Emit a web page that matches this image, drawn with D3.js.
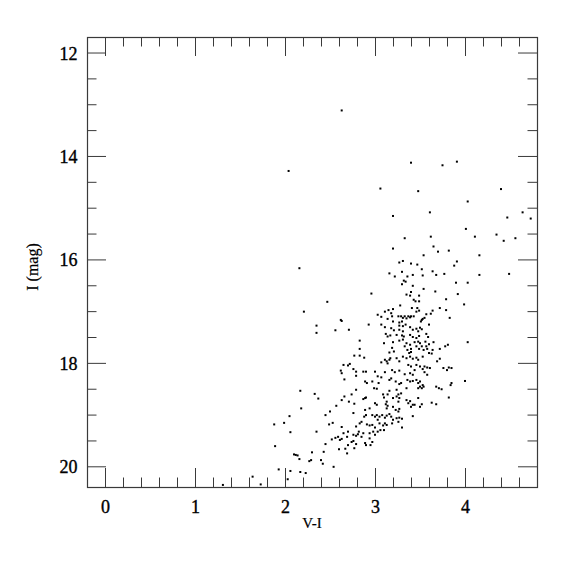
<!DOCTYPE html>
<html>
<head>
<meta charset="utf-8">
<script src="https://cdn.jsdelivr.net/npm/d3@7"></script>
<style>
  html, body { margin: 0; padding: 0; background: #fff; }
  svg { display: block; }
  .tick text { font-family: "Liberation Serif", "DejaVu Serif", serif; }
</style>
</head>
<body>
<div id="chart"></div>
<script>
// ---- data (V-I colour, I magnitude) ----
const xLabel = "V-I";
const yLabel = "I (mag)";
const xMajorTicks = [0, 1, 2, 3, 4];
const yMajorTicks = [12, 14, 16, 18, 20];
const xDomain = [-0.2, 4.8];
const yDomain = [11.7, 20.4];

const vi = [
 2.63,2.04,3.06,3.20,3.33,3.40,3.75,3.91,3.48,4.40,4.03,3.61,4.64,4.47,4.73,4.01,3.62,4.11,4.35,4.43,
 4.56,3.20,3.65,3.70,3.82,3.54,4.16,3.27,3.31,3.40,3.47,3.52,3.88,3.91,3.16,3.22,3.30,3.36,3.42,3.53,
 3.64,3.68,3.77,4.16,4.49,3.32,3.34,3.42,3.30,3.54,3.67,3.90,4.03,3.35,3.40,3.39,3.49,3.92,3.79,2.96,
 2.16,2.47,2.21,2.35,2.35,2.56,2.62,2.71,2.63,
 3.43,3.45,3.49,3.28,3.41,3.47,3.20,3.15,3.18,3.11,3.49,3.64,3.72,3.79,3.03,3.07,3.14,3.19,3.20,
 3.26,3.29,3.33,3.37,3.40,3.43,3.31,3.35,3.39,3.46,3.52,3.53,3.55,3.51,3.57,3.62,
 3.27,3.30,3.27,3.31,3.34,2.93,3.07,3.11,3.18,3.21,3.27,3.31,3.39,3.42,3.46,3.50,3.52,3.48,3.60,
 3.12,3.14,3.17,3.24,3.30,3.32,3.39,3.42,3.46,3.49,3.57,3.59,2.83,3.10,3.20,3.27,3.31,
 3.35,3.39,3.44,3.48,3.50,3.56,3.60,3.65,2.83,3.19,3.21,3.33,3.36,3.40,3.46,3.49,3.52,3.54,3.57,3.58,
 3.64,3.72,3.78,3.81,3.16,3.38,3.40,3.60,3.63,
 3.99,3.83,4.03,3.85,4.00,3.85,3.84,
 2.77,2.83,2.88,3.07,3.11,3.13,3.16,3.17,3.14,3.24,3.27,3.31,3.35,3.39,3.42,3.46,3.48,3.53,
 3.37,3.40,3.46,3.50,3.44,3.53,3.55,3.58,3.61,3.69,3.72,3.76,3.80,3.82,2.76,2.79,2.79,2.87,2.90,
 3.00,3.03,3.11,3.19,3.22,3.27,3.33,3.39,3.42,3.55,3.58,2.89,2.91,2.97,3.07,3.16,3.18,3.23,3.27,3.29,
 3.36,3.39,3.42,3.46,3.48,3.50,3.53,3.54,3.50,3.48,3.52,3.68,3.71,3.74,2.99,3.02,3.04,2.79,2.74,
 3.16,3.14,3.24,3.26,3.29,3.35,2.89,2.87,2.90,3.09,3.10,3.20,3.24,3.27,3.26,3.35,3.39,3.37,3.42,
 3.48,3.63,3.68,3.82,2.77,3.00,3.02,3.13,3.12,3.14,3.13,3.20,3.23,3.26,3.27,3.40,3.44,3.52,3.50,
 2.76,2.89,2.90,2.88,2.94,2.97,3.00,3.02,3.05,3.08,3.11,3.13,3.16,3.18,3.20,3.19,3.24,3.27,3.30,3.26,
 3.42,2.79,2.83,2.85,2.91,2.94,2.97,3.00,3.03,3.05,3.09,3.11,3.13,3.30,2.82,2.87,2.85,2.76,2.79,2.81,
 2.94,2.98,3.00,3.03,3.06,3.10,2.74,2.76,2.79,2.94,2.97,2.95,2.89,2.90,2.77,
 2.65,2.70,2.72,2.62,2.63,2.66,2.17,2.33,2.37,2.18,2.66,2.63,2.71,2.57,2.50,2.45,2.05,1.88,1.99,2.06,
 2.49,2.53,2.63,2.35,2.65,2.70,2.52,2.56,2.59,2.61,2.63,2.69,1.89,2.45,2.60,2.67,2.70,2.10,2.12,2.14,
 2.30,2.43,2.69,2.29,2.27,2.16,2.40,2.42,
 1.64,1.73,1.93,2.03,2.06,2.17,2.23,2.54,1.31
];
const iMag = [
 13.12,14.29,14.63,15.16,15.59,14.13,14.18,14.11,14.68,14.64,14.88,15.09,15.09,15.19,15.21,15.41,15.56,15.56,15.52,15.64,
 15.59,15.79,15.75,15.85,15.83,15.92,15.92,16.06,16.03,16.08,16.10,16.19,16.12,16.04,16.27,16.33,16.24,16.33,16.30,16.31,
 16.23,16.30,16.28,16.30,16.28,16.41,16.43,16.51,16.48,16.57,16.62,16.45,16.45,16.68,16.63,16.70,16.70,16.67,16.77,16.66,
 16.17,16.82,17.01,17.28,17.42,17.37,17.17,17.36,17.19,
 16.78,16.81,16.81,16.89,16.94,16.94,16.96,16.98,17.04,17.01,16.99,16.99,16.94,16.98,17.07,17.11,17.15,17.10,17.20,
 17.10,17.10,17.10,17.10,17.10,17.10,17.13,17.14,17.12,17.01,17.17,17.15,17.13,17.20,17.06,17.05,
 17.22,17.20,17.28,17.29,17.26,17.26,17.26,17.31,17.33,17.37,17.36,17.39,17.31,17.36,17.34,17.32,17.35,17.39,17.26,
 17.44,17.49,17.47,17.46,17.47,17.49,17.46,17.50,17.52,17.48,17.44,17.50,17.57,17.62,17.60,17.57,17.55,
 17.62,17.65,17.60,17.59,17.62,17.59,17.64,17.60,17.73,17.71,17.78,17.68,17.75,17.73,17.68,17.73,17.68,17.75,17.68,17.73,
 17.75,17.73,17.68,17.65,17.80,17.81,17.79,17.81,17.82,
 16.87,17.13,17.60,18.10,18.35,18.39,18.43,
 17.86,17.86,17.90,17.99,17.94,17.97,17.94,17.91,18.01,17.91,17.97,17.88,17.91,17.88,17.92,17.90,17.94,17.88,
 18.04,18.07,18.04,18.07,18.14,18.12,18.07,18.09,18.10,17.97,17.92,18.10,18.14,18.09,18.12,18.17,18.25,18.17,18.17,
 18.17,18.26,18.18,18.14,18.18,18.15,18.22,18.20,18.23,18.18,18.23,18.36,18.39,18.36,18.28,18.33,18.30,18.36,18.41,18.39,
 18.33,18.36,18.35,18.33,18.39,18.36,18.43,18.46,18.46,18.49,18.49,18.46,18.49,18.51,18.49,18.50,18.39,18.52,18.61,
 18.54,18.61,18.52,18.61,18.59,18.49,18.68,18.70,18.67,18.61,18.67,18.68,18.65,18.68,18.75,18.72,18.74,18.78,18.81,
 18.68,18.77,18.80,18.67,18.79,18.78,18.81,18.75,18.80,18.83,18.88,18.85,18.91,18.94,18.89,18.85,18.81,18.80,18.85,
 18.97,18.91,19.01,19.04,18.88,19.01,19.04,19.01,19.04,19.01,19.06,19.02,18.99,19.04,19.10,19.17,19.07,19.06,19.08,19.14,
 19.03,19.23,19.17,19.14,19.19,19.21,19.20,19.25,19.10,19.17,19.21,19.17,19.20,19.25,19.33,19.36,19.43,19.39,19.41,19.38,
 19.36,19.33,19.39,19.33,19.30,19.30,19.53,19.51,19.57,19.46,19.53,19.59,19.55,19.59,19.65,
 18.04,18.05,18.02,18.15,18.20,18.32,18.54,18.60,18.69,18.88,18.65,18.72,18.75,18.83,18.94,19.01,19.03,19.19,19.16,19.34,
 19.19,19.16,19.24,19.33,19.36,19.33,19.48,19.45,19.43,19.49,19.47,19.43,19.61,19.57,19.67,19.66,19.59,19.77,19.78,19.79,
 19.73,19.72,19.75,19.88,19.90,19.86,19.88,19.95,
 20.20,20.35,20.06,20.25,20.09,20.11,20.13,20.01,20.36
];

// ---- layout ----
const W = 575, H = 575;
const pL = 87, pR = 537, pT = 37, pB = 487;
const majorLen = 19, minorLen = 9.5;

const svg = d3.select("#chart").append("svg")
  .attr("width", W).attr("height", H);

const x = d3.scaleLinear().domain(xDomain).range([pL, pR]);
const y = d3.scaleLinear().domain(yDomain).range([pT, pB]);

const xMinor = d3.range(0, 48, 2).map(d => d / 10).filter(d => !xMajorTicks.includes(d));
const yMinor = d3.range(24, 41, 1).map(d => d / 2).filter(d => !yMajorTicks.includes(d));

const tickColor = "#3a3a3a";
function styleAxis(g) {
  g.select(".domain").remove();
  g.selectAll(".tick line").attr("stroke", tickColor);
}
function styleLabels(g) {
  g.selectAll("text").attr("font-size", 18).attr("fill", "#000")
    .attr("stroke", "#000").attr("stroke-width", 0.35);
}

// bottom
svg.append("g").attr("transform", `translate(0,${pB})`)
  .call(d3.axisBottom(x).tickValues(xMajorTicks).tickSize(-majorLen).tickPadding(13).tickFormat(d3.format("d")))
  .call(styleAxis)
  .call(styleLabels);
svg.append("g").attr("transform", `translate(0,${pB})`)
  .call(d3.axisBottom(x).tickValues(xMinor).tickSize(-minorLen).tickFormat(""))
  .call(styleAxis);
// top
svg.append("g").attr("transform", `translate(0,${pT})`)
  .call(d3.axisTop(x).tickValues(xMajorTicks).tickSize(-majorLen).tickFormat(""))
  .call(styleAxis);
svg.append("g").attr("transform", `translate(0,${pT})`)
  .call(d3.axisTop(x).tickValues(xMinor).tickSize(-minorLen).tickFormat(""))
  .call(styleAxis);
// left
svg.append("g").attr("transform", `translate(${pL},0)`)
  .call(d3.axisLeft(y).tickValues(yMajorTicks).tickSize(-majorLen).tickPadding(9.5).tickFormat(d3.format("d")))
  .call(styleAxis)
  .call(styleLabels)
  .call(g => g.selectAll("text").attr("dy", "0.36em"));
svg.append("g").attr("transform", `translate(${pL},0)`)
  .call(d3.axisLeft(y).tickValues(yMinor).tickSize(-minorLen).tickFormat(""))
  .call(styleAxis);
// right
svg.append("g").attr("transform", `translate(${pR},0)`)
  .call(d3.axisRight(y).tickValues(yMajorTicks).tickSize(-majorLen).tickFormat(""))
  .call(styleAxis);
svg.append("g").attr("transform", `translate(${pR},0)`)
  .call(d3.axisRight(y).tickValues(yMinor).tickSize(-minorLen).tickFormat(""))
  .call(styleAxis);

// frame
svg.append("rect")
  .attr("x", pL + 0.5).attr("y", pT + 0.5)
  .attr("width", pR - pL).attr("height", pB - pT)
  .attr("fill", "none").attr("stroke", tickColor).attr("stroke-width", 1.2);

// points
const pts = vi.map((v, i) => ({ v, m: iMag[i] }));
svg.append("g").selectAll("rect.pt").data(pts).join("rect")
  .attr("class", "pt")
  .attr("x", d => x(d.v) - 1).attr("y", d => y(d.m) - 1)
  .attr("width", 2).attr("height", 2)
  .attr("fill", "#000");

// axis titles
svg.append("text")
  .attr("x", (pL + pR) / 2).attr("y", 528)
  .attr("text-anchor", "middle")
  .attr("font-family", "Liberation Serif, DejaVu Serif, serif")
  .attr("font-size", 15)
  .attr("stroke", "#000").attr("stroke-width", 0.2)
  .text(xLabel);
svg.append("text")
  .attr("transform", `translate(38,${(pT + pB) / 2 + 5}) rotate(-90)`)
  .attr("text-anchor", "middle")
  .attr("font-family", "Liberation Serif, DejaVu Serif, serif")
  .attr("font-size", 16)
  .attr("stroke", "#000").attr("stroke-width", 0.2)
  .text(yLabel);
</script>
</body>
</html>
